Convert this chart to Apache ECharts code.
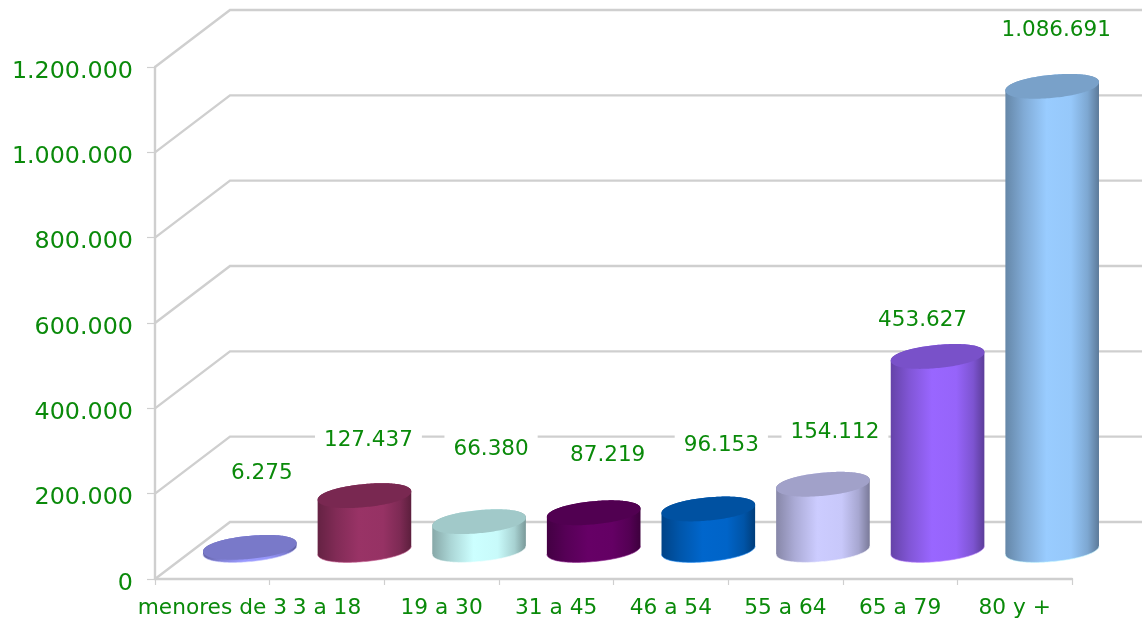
<!DOCTYPE html>
<html>
<head>
<meta charset="utf-8">
<style>html,body{margin:0;padding:0;background:#fff}#c{width:1142px;height:619px}</style>
<script src="https://cdn.jsdelivr.net/npm/echarts@6/dist/echarts.min.js"></script>
</head>
<body>
<div id="c"></div>
<script>
const categories = ['menores de 3','3 a 18','19 a 30','31 a 45','46 a 54','55 a 64','65 a 79','80 y +'];
const values = [6275,127437,66380,87219,96153,154112,453627,1086691];
const yTicks = [0,200000,400000,600000,800000,1000000,1200000];
const barColors = [[153,153,255],[153,51,102],[204,255,255],[102,0,102],[0,102,204],[204,204,255],[153,102,255],[153,204,255]];
// Hand placement of value labels, as pixel nudges from the top of each cylinder
const labelDx = [12,4,12,14,13,12,-15,4];
const labelDy = [-74,-55,-72,-57,-64,-52,-36,-56];

const GREEN = '#0a8a0a', GRID = '#cfcfcf', FONT = '"DejaVu Sans", Verdana, sans-serif';
const DEPTH_X = 75, DEPTH_Y = 57, LIFT = 29, A = 47, B = 11.5, TH = -5.5 * Math.PI / 180, E = 0.95;
const fmt = v => String(v).replace(/\B(?=(\d{3})+(?!\d))/g, '.');
const rgb = (c, k) => `rgb(${c.map(v => Math.round(v * k)).join(',')})`;
const spow = (v) => Math.sign(v) * Math.pow(Math.abs(v), E);

function ell(cx, cy, t) {
  const u = A * spow(Math.cos(t)), w = B * spow(Math.sin(t));
  return [cx + u * Math.cos(TH) - w * Math.sin(TH), cy + u * Math.sin(TH) + w * Math.cos(TH)];
}
let T0 = 0;
for (let k = -200, best = -1e9; k <= 200; k++) {
  const t = k * Math.PI / 400, x = ell(0, 0, t)[0];
  if (x > best) { best = x; T0 = t; }
}

function renderWall(params, api) {
  const p = api.coord([0, api.value(0)]);
  const x = params.coordSys.x, y = p[1];
  return { type: 'polyline', silent: true,
    shape: { points: [[x, y], [x + DEPTH_X, y - DEPTH_Y], [1150, y - DEPTH_Y]] },
    style: { stroke: GRID, lineWidth: 2.4, fill: null } };
}

function renderBar(params, api) {
  const i = params.dataIndex, v = api.value(1), col = barColors[i];
  const base = api.coord([i, 0]), top = api.coord([i, v]);
  const cx = base[0] + DEPTH_X / 2, by = base[1] - LIFT, ty = top[1] - LIFT;
  const side = [], cap = [], rim = [], N = 80;
  for (let k = 0; k <= N; k++) side.push(ell(cx, ty, T0 - Math.PI * k / N));
  for (let k = 0; k <= N; k++) {
    const q = ell(cx, by, T0 + Math.PI - Math.PI * k / N);
    side.push(q); rim.push(q);
  }
  for (let k = 0; k < 2 * N; k++) cap.push(ell(cx, ty, Math.PI * k / N));
  return { type: 'group', silent: true, children: [
    { type: 'polygon', shape: { points: side }, style: { fill: {
      type: 'linear', x: 0, y: 0, x2: 1, y2: 0, colorStops: [
        { offset: 0, color: rgb(col, .66) }, { offset: .2, color: rgb(col, .84) },
        { offset: .44, color: rgb(col, 1) }, { offset: .7, color: rgb(col, .98) },
        { offset: .88, color: rgb(col, .82) }, { offset: 1, color: rgb(col, .6) }] } } },
    { type: 'polygon', shape: { points: cap }, style: { fill: rgb(col, .79) } },
    { type: 'polyline', shape: { points: rim }, style: { stroke: rgb(col.map(c => Math.min(255, c + 45)), 1), lineWidth: 1, fill: null, opacity: .6 } }
  ] };
}

function renderLabel(params, api) {
  const i = params.dataIndex, v = api.value(1);
  const base = api.coord([i, 0]), top = api.coord([i, v]);
  return { type: 'text', silent: true, style: {
    x: base[0] + DEPTH_X / 2 + labelDx[i], y: top[1] - LIFT + labelDy[i],
    text: fmt(v), fill: GREEN, font: '21.5px ' + FONT, align: 'center', verticalAlign: 'middle',
    backgroundColor: '#fff', padding: [4, 9, 6, 9] } };
}

const chart = echarts.init(document.getElementById('c'), null, { renderer: 'canvas' });
chart.setOption({
  animation: false, backgroundColor: '#fff',
  grid: { left: 155, right: 70, top: 67, bottom: 37.5, containLabel: false },
  xAxis: { type: 'category', data: categories, boundaryGap: true,
    axisLine: { lineStyle: { color: GRID, width: 2.4 } },
    axisTick: { show: true, alignWithLabel: false, length: 6, lineStyle: { color: GRID, width: 1.2 } },
    axisLabel: { interval: 0, hideOverlap: false, color: GREEN, fontFamily: FONT, fontSize: 21.7, margin: 18 } },
  yAxis: { type: 'value', min: 0, max: 1200000, interval: 200000,
    splitLine: { show: false },
    axisLine: { show: true, lineStyle: { color: GRID, width: 2.4 } },
    axisTick: { show: true, length: 8, lineStyle: { color: GRID, width: 1.2 } },
    axisLabel: { color: GREEN, fontFamily: FONT, fontSize: 23.8, margin: 22, formatter: v => '{a|' + fmt(v) + '}',
      rich: { a: { color: GREEN, fontFamily: FONT, fontSize: 23.8, padding: [9, 0, 0, 0] } } } },
  series: [
    { type: 'custom', clip: false, z: 1, silent: true, renderItem: renderWall,
      data: yTicks.map(v => [v]), encode: { y: 0 } },
    { type: 'custom', clip: false, z: 3, silent: true, renderItem: renderBar,
      data: values.map((v, i) => [i, v]), encode: { x: 0, y: 1 } },
    { type: 'custom', clip: false, z: 4, silent: true, renderItem: renderLabel,
      data: values.map((v, i) => [i, v]), encode: { x: 0, y: 1 } }
  ]
});
</script>
</body>
</html>
